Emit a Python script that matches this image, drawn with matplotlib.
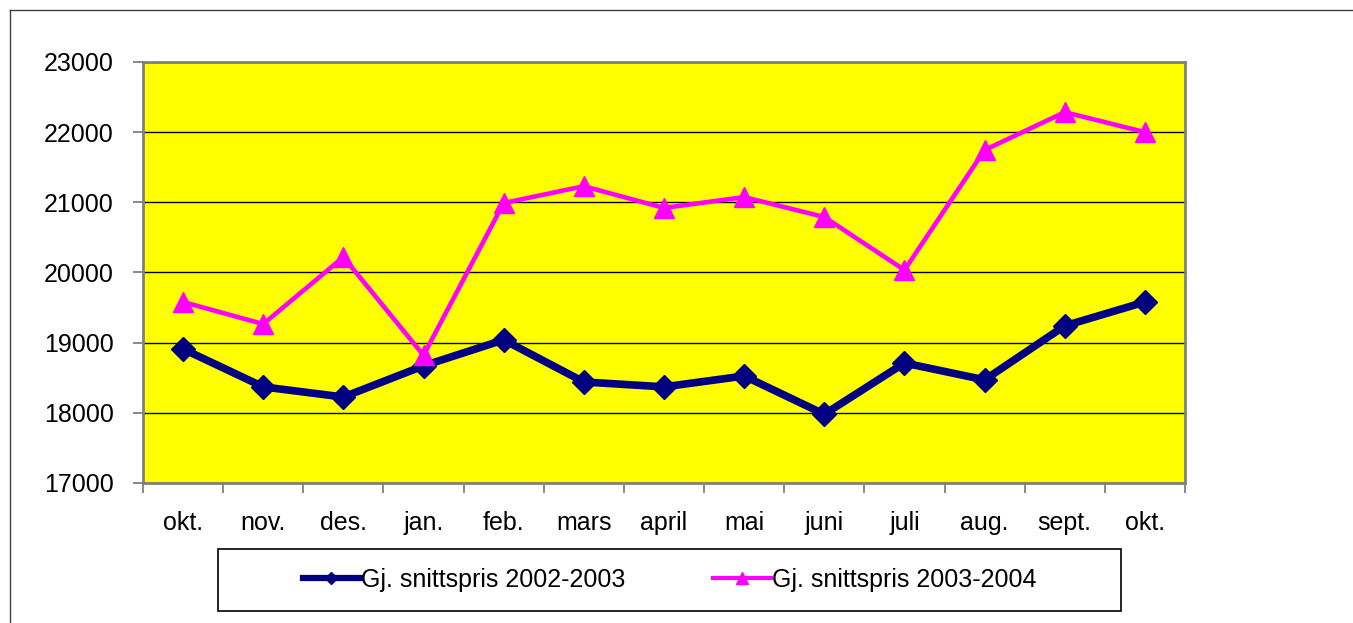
import numpy as np
import matplotlib.pyplot as plt
from matplotlib.lines import Line2D

plt.rcParams['font.family'] = ['Liberation Sans', 'DejaVu Sans']

#####################################################################
# data
#####################################################################
months = ['okt.', 'nov.', 'des.', 'jan.', 'feb.', 'mars', 'april',
          'mai', 'juni', 'juli', 'aug.', 'sept.', 'okt.']
pris_0203 = [18910, 18370, 18225, 18670, 19040, 18440, 18370,
             18525, 17980, 18710, 18470, 19240, 19580]
pris_0304 = [19580, 19265, 20220, 18820, 20990, 21230, 20920,
             21075, 20790, 20035, 21745, 22285, 22000]
labels = ['Gj. snittspris 2002-2003', 'Gj. snittspris 2003-2004']
yticks = [17000, 18000, 19000, 20000, 21000, 22000, 23000]

#####################################################################
# plot
#####################################################################
W, H = 1353, 623
fig = plt.figure(figsize=(W / 100, H / 100), dpi=100)
ax = fig.add_axes([143 / W, 1 - 483 / H, (1185 - 143) / W, (483 - 62) / H])
ax.set_facecolor('#ffff00')

x = np.arange(len(months))
ax.plot(x, pris_0203, color='#000080', lw=5.5, marker='D', ms=12.5,
        label=labels[0], zorder=3)
ax.plot(x, pris_0304, color='#ff00ff', lw=3.3, marker='^', ms=14,
        label=labels[1], zorder=4)

ax.set_xlim(-0.5, len(months) - 0.5)
ax.set_ylim(17000, 23000)
ax.set_yticks(yticks)
ax.set_yticklabels([str(v) for v in yticks])
ax.grid(axis='y', color='black', lw=1)
ax.set_axisbelow(True)

ax.set_xticks(x)
ax.set_xticklabels(months)
ax.set_xticks(np.arange(-0.5, len(months)), minor=True)
ax.tick_params(axis='x', which='major', length=0, pad=20, labelsize=18)
ax.tick_params(axis='x', which='minor', length=7, width=1.3, color='#808080')
ax.tick_params(axis='y', length=7, width=1.3, color='#808080', pad=14,
               labelsize=18)
for s in ax.spines.values():
    s.set_color('#808080')
    s.set_linewidth(2)

# legend box
box = plt.Rectangle((218 / W, 1 - 611 / H), (1121 - 218) / W, 62 / H,
                    transform=fig.transFigure, fill=False, ec='black',
                    lw=1.2)
fig.add_artist(box)
handles = [Line2D([], [], color='#000080', lw=4.5, marker='D', ms=6),
           Line2D([], [], color='#ff00ff', lw=3, marker='^', ms=8)]
fig.legend(handles, labels, loc='center', ncol=2, frameon=False,
           bbox_to_anchor=(669.5 / W, 1 - 580 / H), fontsize=18,
           handlelength=2.3, handletextpad=0.05, columnspacing=3.5)

# outer chart frame
fig.add_artist(Line2D([10 / W, 10 / W], [0, 1 - 10 / H],
                      transform=fig.transFigure, color='#404040', lw=1))
fig.add_artist(Line2D([10 / W, 1], [1 - 10 / H, 1 - 10 / H],
                      transform=fig.transFigure, color='#404040', lw=1))

plt.savefig('out.png', dpi=100)
